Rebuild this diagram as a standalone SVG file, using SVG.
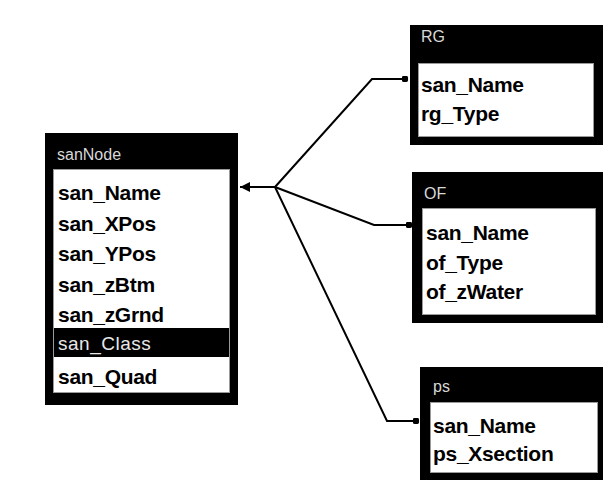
<svg xmlns="http://www.w3.org/2000/svg" width="603" height="487" viewBox="0 0 603 487">
<defs>
<marker id="arr" viewBox="0 0 10 10" refX="10" refY="5" markerWidth="10" markerHeight="10" markerUnits="userSpaceOnUse" orient="auto">
<path d="M0,0 L10,5 L0,10 Z" fill="#000"/>
</marker>
<marker id="dot" viewBox="0 0 8 8" refX="4" refY="4" markerWidth="7" markerHeight="7" markerUnits="userSpaceOnUse" orient="auto">
<rect x="0.5" y="0.5" width="7" height="7" rx="2" fill="#000"/>
</marker>
</defs>
<style>
.frame{fill:#000}
.body{fill:#fff}
.edge{fill:none;stroke:#9a9a9a;stroke-width:1}
.title{font-family:"Liberation Sans",Arial,sans-serif;font-size:16px;fill:#d8d8d8}
.field{font-family:"Liberation Sans",Arial,sans-serif;font-size:21px;font-weight:bold;fill:#000;letter-spacing:-0.3px}
.sel{fill:#e8e8e8;font-weight:normal;font-size:19px;letter-spacing:0.5px}
.conn{fill:none;stroke:#000;stroke-width:2}
</style>
<rect width="603" height="487" fill="#fff"/>
<g id="sanNode">
<rect class="frame" x="45" y="133" width="193" height="272"/>
<rect class="body" x="53" y="169" width="177" height="159"/>
<rect class="body" x="53" y="357" width="177" height="36"/>
<rect class="edge" x="53.5" y="169.5" width="176" height="223"/>
<text class="title" x="57" y="160">sanNode</text>
<text class="field" x="58" y="200">san_Name</text>
<text class="field" x="58" y="231">san_XPos</text>
<text class="field" x="58" y="261">san_YPos</text>
<text class="field" x="58" y="292">san_zBtm</text>
<text class="field" x="58" y="322">san_zGrnd</text>
<text class="field sel" x="58" y="350">san_Class</text>
<text class="field" x="58" y="384">san_Quad</text>
</g>
<g id="RG">
<rect class="frame" x="410" y="25" width="193" height="120"/>
<rect class="body" x="418" y="63" width="176" height="74"/>
<rect class="edge" x="418.5" y="63.5" width="175" height="73"/>
<text class="title" x="421" y="42">RG</text>
<text class="field" x="421" y="92">san_Name</text>
<text class="field" x="421" y="121">rg_Type</text>
</g>
<g id="OF">
<rect class="frame" x="412" y="172" width="191" height="151"/>
<rect class="body" x="422" y="208" width="174" height="107"/>
<rect class="edge" x="422.5" y="208.5" width="173" height="106"/>
<text class="title" x="424" y="199">OF</text>
<text class="field" x="426" y="240">san_Name</text>
<text class="field" x="426" y="270">of_Type</text>
<text class="field" x="426" y="299">of_zWater</text>
</g>
<g id="PS">
<rect class="frame" x="420" y="367" width="183" height="113"/>
<rect class="body" x="430" y="402" width="168" height="71"/>
<rect class="edge" x="430.5" y="402.5" width="167" height="70"/>
<text class="title" x="433" y="392">ps</text>
<text class="field" x="433" y="433">san_Name</text>
<text class="field" x="433" y="461">ps_Xsection</text>
</g>
<g id="connectors">
<line class="conn" x1="275" y1="187" x2="240" y2="187" marker-end="url(#arr)"/>
<polyline class="conn" points="275,187 372,79 405,79" marker-end="url(#dot)"/>
<polyline class="conn" points="275,187 374,225 409,225" marker-end="url(#dot)"/>
<polyline class="conn" points="275,187 387,421 416,421" marker-end="url(#dot)"/>
</g>
</svg>
